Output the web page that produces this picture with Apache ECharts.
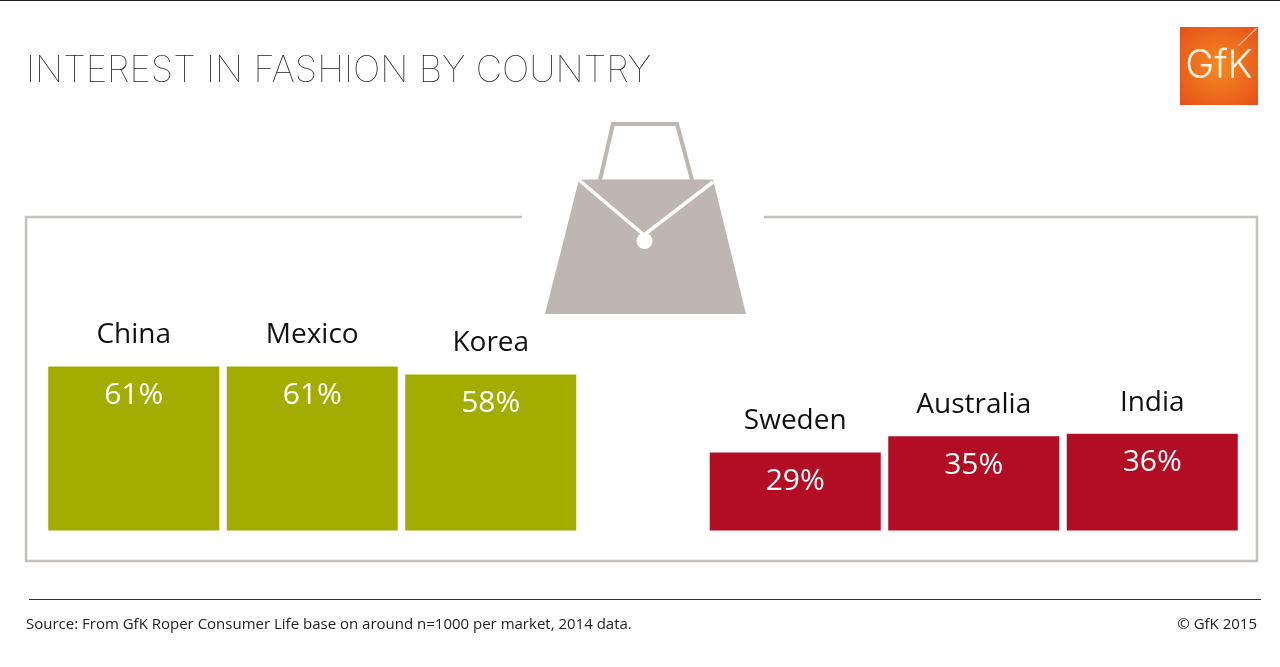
<!DOCTYPE html>
<html><head><meta charset="utf-8">
<style>html,body{margin:0;padding:0;background:#fff}#c{width:1280px;height:667px}</style>
<script src="https://cdn.jsdelivr.net/npm/echarts@6/dist/echarts.min.js"></script>
</head><body><div id="c"></div>
<script>
const titleText = 'INTEREST IN FASHION BY COUNTRY';
const sourceText = 'Source: From GfK Roper Consumer Life base on around n=1000 per market, 2014 data.';
const copyrightText = '© GfK 2015';
const highCountries = ['China', 'Mexico', 'Korea'];
const highValues = [61, 61, 58];
const lowCountries = ['Sweden', 'Australia', 'India'];
const lowValues = [29, 35, 36];
const GREEN = '#a2ad00', RED = '#b20d23', GREY = '#bdb6b2', FRAME = '#c6c1bd';
const FONT = '"Open Sans", sans-serif';

function barPair(idx, values, color) {
  return [{
    type: 'bar', xAxisIndex: idx, yAxisIndex: idx, data: values, barWidth: 171, barGap: '-100%',
    itemStyle: { color }, silent: true,
    label: { show: true, position: 'insideTop', distance: 14, color: '#fff', fontFamily: FONT, fontSize: 30, formatter: p => p.value + '%' }
  }, {
    type: 'bar', xAxisIndex: idx, yAxisIndex: idx, data: values, barWidth: 171, barGap: '-100%',
    itemStyle: { color: 'transparent' }, silent: true,
    label: { show: true, position: 'top', distance: 17, color: '#111', fontFamily: FONT, fontSize: 28, formatter: p => p.name }
  }];
}
const hiddenX = (idx, cats) => ({ type: 'category', gridIndex: idx, data: cats, show: false });
const hiddenY = idx => ({ type: 'value', gridIndex: idx, min: 0, max: 100, show: false });

const chart = echarts.init(document.getElementById('c'), null, { renderer: 'canvas', width: 1280, height: 667 });
chart.setOption({
  animation: false,
  backgroundColor: '#fff',
  title: { text: titleText, left: 21, top: 48, textStyle: { fontFamily: 'Inter, sans-serif', fontWeight: 100, fontSize: 36.5, color: '#222' } },
  grid: [
    { left: 44.5, width: 535.5, top: 261.5, height: 269 },
    { left: 706, width: 535.5, top: 261.5, height: 269 }
  ],
  xAxis: [hiddenX(0, highCountries), hiddenX(1, lowCountries)],
  yAxis: [hiddenY(0), hiddenY(1)],
  series: [...barPair(0, highValues, GREEN), ...barPair(1, lowValues, RED)],
  graphic: [
    { type: 'line', silent: true, shape: { x1: 0, y1: 0.5, x2: 1280, y2: 0.5 }, style: { stroke: '#222', lineWidth: 1 } },
    { type: 'polyline', silent: true, shape: { points: [[522, 217], [26, 217], [26, 561], [1257, 561], [1257, 217], [764, 217]] }, style: { stroke: FRAME, lineWidth: 2.5, fill: null } },
    { type: 'polyline', silent: true, shape: { points: [[600, 180], [613, 124], [677, 124], [692, 180]] }, style: { stroke: GREY, lineWidth: 4, fill: null } },
    { type: 'polygon', silent: true, shape: { points: [[579, 179.5], [713, 179.5], [746, 314], [545, 314]] }, style: { fill: GREY } },
    { type: 'polyline', silent: true, shape: { points: [[579, 180], [644, 235], [713, 182]] }, style: { stroke: '#fff', lineWidth: 3.5, fill: null } },
    { type: 'circle', silent: true, shape: { cx: 644.5, cy: 241, r: 8 }, style: { fill: '#fff' } },
    { type: 'rect', silent: true, shape: { x: 1180, y: 27, width: 78, height: 78 }, style: { fill: new echarts.graphic.RadialGradient(0.5, 0.5, 0.7, [{ offset: 0, color: '#f58a1f' }, { offset: 1, color: '#e6501b' }]) } },
    { type: 'line', silent: true, shape: { x1: 1238, y1: 46, x2: 1257, y2: 28 }, style: { stroke: '#f7b48a', lineWidth: 1.5 } },
    { type: 'text', silent: true, style: { x: 1219, y: 66, text: 'GfK', align: 'center', verticalAlign: 'middle', fontFamily: 'Inter, sans-serif', fontWeight: 300, fontSize: 39, fill: '#fff3e2' } },
    { type: 'line', silent: true, shape: { x1: 29, y1: 599.5, x2: 1261, y2: 599.5 }, style: { stroke: '#333', lineWidth: 1 } },
    { type: 'text', silent: true, style: { x: 26, y: 625, text: sourceText, verticalAlign: 'middle', fontFamily: FONT, fontSize: 15, fill: '#222' } },
    { type: 'text', silent: true, style: { x: 1257, y: 625, text: copyrightText, align: 'right', verticalAlign: 'middle', fontFamily: FONT, fontSize: 15, fill: '#222' } }
  ]
});
</script></body></html>
